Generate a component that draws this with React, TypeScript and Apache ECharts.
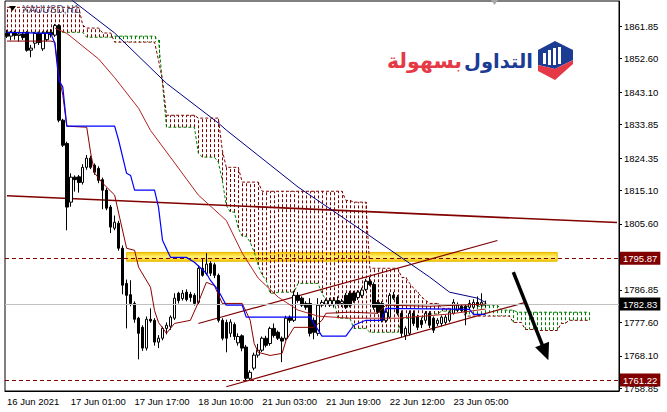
import React, { useEffect, useRef } from "react";
import * as echarts from "echarts";

const FONT = '"Liberation Sans", Arial, sans-serif';

const barSlots = 154;
const xTickLabels = [
  "16 Jun 2021", "17 Jun 01:00", "17 Jun 17:00", "18 Jun 10:00",
  "21 Jun 03:00", "21 Jun 19:00", "22 Jun 12:00", "23 Jun 05:00",
];
const yTickValues = [1861.85, 1852.6, 1843.1, 1833.85, 1824.35, 1815.1, 1805.6, 1786.85, 1777.6, 1768.1, 1758.85];

// [open, close, low, high]
const candles = [
  [1859.8, 1859.0, 1858.5, 1860.8], [1859.0, 1860.0, 1857.8, 1860.5], [1860.0, 1859.2, 1858.0, 1860.6],
  [1859.2, 1859.6, 1857.5, 1860.2], [1859.6, 1858.6, 1857.9, 1860.0], [1860.1, 1855.0, 1854.6, 1860.4],
  [1855.0, 1855.6, 1853.0, 1856.5], [1857.0, 1859.8, 1855.5, 1860.2], [1859.8, 1857.2, 1856.5, 1860.3],
  [1855.4, 1859.9, 1854.8, 1860.4], [1858.0, 1860.0, 1857.5, 1860.6], [1860.0, 1859.4, 1858.6, 1861.0],
  [1859.3, 1862.0, 1858.8, 1862.5], [1862.0, 1835.1, 1834.5, 1862.4], [1835.1, 1828.0, 1827.5, 1835.5],
  [1828.5, 1810.4, 1803.8, 1829.0], [1811.8, 1818.9, 1810.5, 1820.0], [1818.9, 1818.2, 1814.8, 1819.4],
  [1819.0, 1817.4, 1814.5, 1819.5], [1817.4, 1821.7, 1816.8, 1822.6], [1821.7, 1824.3, 1821.0, 1825.2],
  [1824.3, 1821.7, 1821.2, 1825.0], [1822.3, 1820.3, 1819.6, 1822.8], [1821.4, 1818.0, 1817.2, 1822.0],
  [1818.2, 1815.2, 1809.8, 1818.8], [1815.2, 1810.1, 1809.5, 1815.8], [1810.4, 1804.7, 1803.0, 1811.0],
  [1804.4, 1806.1, 1803.8, 1808.0], [1805.8, 1798.7, 1798.0, 1806.5], [1798.7, 1788.2, 1785.6, 1799.5],
  [1788.7, 1785.3, 1775.9, 1789.8], [1785.5, 1783.0, 1782.2, 1789.6], [1783.0, 1778.5, 1777.5, 1783.6],
  [1778.8, 1774.5, 1767.1, 1779.2], [1776.2, 1770.3, 1769.5, 1776.8], [1770.3, 1778.5, 1769.6, 1779.3],
  [1778.5, 1778.0, 1777.5, 1781.6], [1778.2, 1772.0, 1771.0, 1778.8], [1772.0, 1773.1, 1770.3, 1774.0],
  [1773.1, 1775.9, 1772.5, 1776.4], [1775.9, 1776.8, 1774.2, 1777.6], [1776.5, 1779.1, 1775.5, 1779.6],
  [1778.8, 1784.5, 1778.3, 1785.9], [1785.9, 1783.8, 1783.0, 1786.3], [1784.4, 1785.9, 1783.8, 1786.8],
  [1786.2, 1784.1, 1783.6, 1787.0], [1785.6, 1784.7, 1783.5, 1786.3], [1785.3, 1783.0, 1782.4, 1785.9],
  [1783.3, 1793.0, 1782.8, 1793.8], [1793.0, 1791.0, 1790.6, 1795.9], [1791.5, 1794.2, 1791.0, 1797.3],
  [1794.4, 1791.6, 1790.8, 1795.0], [1794.0, 1791.0, 1790.2, 1794.6], [1791.0, 1778.2, 1777.6, 1791.5],
  [1778.2, 1773.1, 1772.5, 1778.8], [1777.6, 1773.1, 1769.1, 1778.4], [1774.5, 1777.7, 1773.4, 1778.5],
  [1777.0, 1773.6, 1772.6, 1777.6], [1771.8, 1773.6, 1771.0, 1774.5], [1773.8, 1770.3, 1769.4, 1774.2],
  [1770.6, 1761.7, 1761.2, 1771.2], [1761.7, 1763.4, 1761.2, 1764.0], [1764.6, 1768.3, 1764.0, 1769.0],
  [1768.3, 1769.7, 1767.6, 1771.5], [1769.7, 1773.1, 1769.2, 1773.6], [1773.1, 1771.1, 1770.5, 1773.8],
  [1771.6, 1775.9, 1771.0, 1776.4], [1775.9, 1773.9, 1773.3, 1777.3], [1774.8, 1773.1, 1772.6, 1775.3],
  [1773.1, 1772.3, 1766.3, 1773.6], [1773.1, 1778.8, 1772.5, 1779.5], [1779.1, 1778.2, 1777.5, 1779.6],
  [1778.2, 1785.3, 1777.7, 1786.6], [1785.3, 1783.8, 1783.2, 1786.2], [1784.5, 1782.5, 1782.0, 1785.0],
  [1783.0, 1781.9, 1781.2, 1783.6], [1783.0, 1774.5, 1773.6, 1784.5], [1778.2, 1774.8, 1772.8, 1779.0],
  [1774.5, 1782.5, 1773.8, 1784.5], [1782.5, 1783.3, 1781.9, 1784.0], [1782.8, 1783.8, 1782.0, 1784.4],
  [1782.5, 1783.8, 1782.0, 1784.6], [1782.6, 1783.8, 1781.8, 1784.8], [1783.8, 1783.0, 1782.4, 1785.0],
  [1783.0, 1783.6, 1782.0, 1784.3], [1785.3, 1781.9, 1781.4, 1786.0], [1785.9, 1782.5, 1781.9, 1786.6],
  [1786.0, 1783.8, 1783.2, 1786.6], [1784.7, 1786.2, 1784.0, 1786.8], [1785.3, 1786.8, 1784.6, 1787.5],
  [1787.0, 1789.3, 1786.5, 1790.0], [1789.3, 1788.4, 1788.0, 1790.5], [1788.4, 1781.9, 1781.2, 1789.0],
  [1783.3, 1780.5, 1780.0, 1784.0], [1783.0, 1778.2, 1777.6, 1783.6], [1778.2, 1780.5, 1777.5, 1781.0],
  [1779.1, 1785.3, 1778.6, 1786.0], [1785.3, 1784.5, 1784.0, 1786.3], [1784.8, 1780.2, 1779.6, 1785.4],
  [1780.2, 1774.5, 1773.4, 1781.0], [1773.9, 1775.9, 1772.6, 1776.5], [1774.5, 1780.2, 1773.9, 1781.0],
  [1780.2, 1777.3, 1776.6, 1781.0], [1779.1, 1776.2, 1775.4, 1779.8], [1778.2, 1777.0, 1776.0, 1779.0],
  [1778.2, 1780.2, 1777.3, 1780.8], [1780.2, 1776.8, 1776.0, 1780.8], [1778.8, 1775.4, 1774.6, 1779.3],
  [1777.3, 1778.2, 1776.6, 1778.8], [1777.3, 1779.1, 1776.5, 1779.6], [1777.6, 1779.1, 1777.0, 1779.8],
  [1778.2, 1780.5, 1777.6, 1781.0], [1780.2, 1783.3, 1779.8, 1784.2], [1781.0, 1782.5, 1780.5, 1783.3],
  [1782.2, 1781.0, 1780.4, 1782.8], [1782.2, 1780.5, 1776.8, 1782.8], [1781.9, 1783.0, 1781.4, 1784.0],
  [1781.9, 1783.3, 1781.4, 1784.2], [1783.3, 1782.5, 1782.0, 1785.0], [1782.5, 1783.3, 1782.0, 1785.9],
  [1782.6, 1782.83, 1782.0, 1783.8],
];

// Ichimoku spans as runs: [value, number of bars]
const spanARuns = [
  [1860.1, 20], [1858.7, 7], [1859.0, 11], [1857.9, 1], [1845.6, 1], [1833.1, 8], [1825.7, 1], [1824.6, 4],
  [1823.2, 1], [1818.0, 1], [1810.9, 1], [1809.0, 2], [1804.4, 1], [1802.1, 2], [1800.4, 1], [1797.6, 1],
  [1793.9, 1], [1791.0, 1], [1789.6, 1], [1785.9, 2], [1786.2, 5], [1788.7, 6], [1785.9, 1], [1783.9, 3],
  [1778.8, 4], [1775.9, 4], [1774.8, 8], [1778.8, 6], [1780.0, 4], [1780.8, 4], [1781.4, 2], [1782.2, 5],
  [1782.5, 4], [1781.1, 4], [1780.5, 19],
];
const spanBRuns = [
  [1867.2, 19], [1862.1, 1], [1861.3, 4], [1859.9, 3], [1857.3, 11], [1852.2, 1], [1846.5, 1], [1836.5, 8],
  [1835.7, 6], [1826.6, 1], [1821.7, 4], [1817.5, 5], [1814.9, 21], [1812.3, 2], [1811.8, 4], [1793.0, 8],
  [1790.4, 2], [1788.7, 1], [1787.3, 1], [1786.2, 1], [1784.8, 1], [1783.9, 1], [1783.0, 3], [1781.6, 6],
  [1779.4, 12], [1777.6, 3], [1775.6, 3], [1775.3, 6], [1777.3, 2], [1778.2, 6],
];

// vertices [bar index, price]
const kijun = [
  [0, 1860.1], [11, 1859.8], [12, 1857.0], [13, 1846.5], [14, 1844.5], [15, 1833.4], [27, 1833.4], [28, 1829.4],
  [30, 1820.0], [31, 1819.4], [32, 1815.2], [37, 1815.2], [38, 1810.4], [39, 1801.0], [41, 1796.1], [45, 1796.1],
  [47, 1794.7], [50, 1791.6], [51, 1789.6], [53, 1786.7], [55, 1782.5], [59, 1782.5], [60, 1779.1], [76, 1779.1],
  [79, 1773.7], [85, 1773.7], [87, 1776.8], [90, 1778.2], [94, 1778.2], [95, 1781.6], [116, 1781.3], [117, 1779.9],
  [120, 1779.9],
];
const tenkan = [
  [0, 1857.6], [11, 1857.6], [12, 1857.3], [13, 1847.9], [14, 1842.2], [15, 1833.4], [20, 1833.1], [21, 1825.7],
  [22, 1820.0], [24, 1817.2], [27, 1813.8], [28, 1808.7], [30, 1798.7], [32, 1798.1], [33, 1793.3], [36, 1787.6],
  [37, 1781.0], [38, 1777.6], [40, 1774.5], [42, 1777.3], [46, 1778.2], [48, 1783.3], [50, 1789.0], [52, 1788.1],
  [54, 1783.0], [59, 1783.0], [61, 1778.2], [62, 1771.6], [63, 1769.1], [66, 1768.2], [69, 1768.8], [70, 1772.5],
  [72, 1776.2], [77, 1776.2], [79, 1778.2], [80, 1780.2], [86, 1780.5], [93, 1780.2], [95, 1782.5], [106, 1782.2],
  [113, 1782.5], [120, 1782.8],
];
const maFast = [
  [12, 1861.3], [15, 1859.8], [23, 1852.5], [27, 1847.2], [33, 1838.5], [36, 1832.2], [43, 1821.5], [48, 1813.8],
  [55, 1806.6], [59, 1797.3], [63, 1790.2], [68, 1784.8], [73, 1781.1], [78, 1779.4], [86, 1778.8], [98, 1778.8],
  [111, 1780.0], [120, 1781.4],
];
const maSlow = [
  [13, 1872.1], [27, 1859.9], [40, 1845.6], [53, 1834.3], [55, 1832.3], [73, 1816.1], [90, 1803.0], [106, 1790.5],
  [111, 1786.2], [118, 1784.5], [120, 1783.3],
];
const longTrend = [[0, 1813.6], [153, 1806.0]];
const channelUpper = [[48, 1777.3], [123, 1800.9]];
const channelLower = [[55, 1759.3], [130, 1783.3]];
const arrowFrom = [127, 1791.9];
const arrowTo = [135, 1769.1];
const resistanceLevel = 1795.87;
const supportLevel = 1761.22;
const lastPrice = 1782.83;
const zoneFrom = [30, 1797.5];
const zoneTo = [138, 1795.0];

const expand = (runs: number[][]) => runs.flatMap(([v, n]) => Array(n).fill(v));

export default function App() {
  const ref = useRef<HTMLDivElement>(null);
  useEffect(() => {
    document.body.style.margin = "0";
    const chart = echarts.init(ref.current!, undefined, { renderer: "svg" });
    const spanA = expand(spanARuns);
    const spanB = expand(spanBRuns);
    const cats = Array.from({ length: barSlots }, (_, i) => String(i));
    const maroon = "#800000";
    const levelLabel = (bg: string) => ({
      show: true, position: "end", distance: 1, color: "#fff", backgroundColor: bg,
      padding: [2, 3, 1, 3], fontSize: 9.5, fontFamily: FONT,
      formatter: (p: any) => Number(p.value).toFixed(2),
    });
    const lineSeries = (data: number[][], color: string, width: number, z = 4, type: any = "solid") => ({
      type: "line", data, symbol: "none", silent: true, z,
      lineStyle: { color, width, type }, animation: false,
    });
    chart.setOption({
      animation: false,
      textStyle: { fontFamily: FONT },
      grid: { left: 5, right: 48, top: 1, bottom: 21, show: true, borderColor: "#000", borderWidth: 1, backgroundColor: "#fff" },
      xAxis: {
        type: "category", data: cats, boundaryGap: true,
        axisLine: { lineStyle: { color: "#000" } },
        axisTick: { alignWithLabel: true, interval: 15, length: 4, lineStyle: { color: "#000" } },
        axisLabel: {
          interval: 15, align: "left", margin: 5, fontSize: 9.5, color: "#000", fontFamily: FONT,
          formatter: (_v: string, idx: number) => xTickLabels[idx / 16] ?? "",
        },
        splitLine: { show: false },
      },
      yAxis: {
        type: "value", position: "right", min: 1758.1, max: 1869.0, scale: true,
        axisLine: { show: true, lineStyle: { color: "#000" } },
        axisTick: { show: true, length: 3, customValues: yTickValues, lineStyle: { color: "#000" } },
        axisLabel: {
          customValues: yTickValues, margin: 5, fontSize: 9.5, color: "#000", fontFamily: FONT,
          formatter: (v: number) => v.toFixed(2),
        },
        splitLine: { show: false },
      },
      series: [
        {
          type: "line", data: [], symbol: "none", silent: true, z: 1,
          markArea: {
            silent: true,
            itemStyle: {
              color: new echarts.graphic.LinearGradient(0, 0, 0, 1, [
                { offset: 0, color: "#f2c800" }, { offset: 0.5, color: "#fff27a" }, { offset: 1, color: "#f2c800" },
              ]),
              borderColor: "#e8b800", borderWidth: 1,
            },
            data: [[{ coord: zoneFrom }, { coord: zoneTo }]],
          },
        },
        {
          type: "custom", silent: true, z: 2, clip: true,
          data: spanA.map((a: number, i: number) => [i, a, spanB[i]]),
          encode: { x: 0, y: [1, 2] },
          renderItem: (_params: any, api: any) => {
            const i = api.value(0), a = api.value(1), b = api.value(2);
            const p1 = api.coord([i, a]);
            const p2 = api.coord([i, b]);
            const x = Math.round(p1[0]) + 0.5;
            return {
              type: "line",
              shape: { x1: x, y1: p1[1], x2: x, y2: p2[1] },
              style: { stroke: b > a ? maroon : "#008000", lineWidth: 1, lineDash: [3, 2] },
            };
          },
        },
        lineSeries(spanA.map((v: number, i: number) => [i, v]), "#008000", 1, 3, [3, 2]),
        lineSeries(spanB.map((v: number, i: number) => [i, v]), maroon, 1, 3, [3, 2]),
        {
          ...lineSeries(longTrend, maroon, 1.6, 3),
          markLine: {
            silent: true, symbol: ["none", "none"], animation: false,
            data: [
              { yAxis: lastPrice, lineStyle: { color: "#c0c0c0", width: 1, type: "solid" }, label: levelLabel("#000") },
              { yAxis: resistanceLevel, lineStyle: { color: maroon, width: 1, type: [4, 3] }, label: levelLabel(maroon) },
              { yAxis: supportLevel, lineStyle: { color: maroon, width: 1, type: [4, 3] }, label: levelLabel(maroon) },
              [
                { coord: arrowFrom, symbol: "none", lineStyle: { color: "#000", width: 3.5, type: "solid" }, label: { show: false } },
                { coord: arrowTo, symbol: "triangle", symbolSize: [15, 17] },
              ],
            ],
          },
        },
        lineSeries(channelUpper, maroon, 1.2, 3),
        lineSeries(channelLower, maroon, 1.2, 3),
        {
          type: "candlestick", data: candles, barWidth: 3, z: 4, silent: true,
          itemStyle: { color: "#fff", color0: "#000", borderColor: "#000", borderColor0: "#000", borderWidth: 1 },
        },
        lineSeries(maSlow, "#000080", 1, 5),
        lineSeries(maFast, "#b22222", 1, 5),
        lineSeries(tenkan, "#8b0000", 1, 5),
        lineSeries(kijun, "#0000ff", 1.2, 5),
      ],
      graphic: [
        { type: "polygon", shape: { points: [[9, 6], [16, 6], [12.5, 11]] }, style: { fill: "#000" }, z: 10 },
        {
          type: "text", x: 22, y: 9, z: 10,
          style: { text: "XAUUSD,H1", fill: "#50507a", font: `10px ${FONT}`, textVerticalAlign: "middle", verticalAlign: "middle" },
        },
        { type: "polygon", shape: { points: [[491, 0], [498, 0], [494.5, 5]] }, style: { fill: "#a8a8a8" }, z: 10 },
        {
          type: "text", x: 533, y: 61, z: 10,
          style: {
            text: "التداول", fill: "#1c3c94", font: 'bold 19.5px "DejaVu Sans", sans-serif',
            textAlign: "right", align: "right", textVerticalAlign: "middle", verticalAlign: "middle",
          },
        },
        {
          type: "text", x: 462, y: 61, z: 10,
          style: {
            text: "بسهولة", fill: "#e63946", font: 'bold 20.5px "DejaVu Sans", sans-serif',
            textAlign: "right", align: "right", textVerticalAlign: "middle", verticalAlign: "middle",
          },
        },
        {
          type: "polygon", z: 10,
          shape: { points: [[555, 41], [573, 50], [573, 60], [555, 69], [538, 65], [538, 50]] },
          style: { fill: "#1c3c94" },
        },
        {
          type: "polygon", z: 10,
          shape: { points: [[538, 65], [555, 69], [573, 60], [573, 64], [555, 80], [538, 71]] },
          style: { fill: "#e63946" },
        },
        { type: "rect", z: 11, shape: { x: 543, y: 53, width: 3, height: 11 }, style: { fill: "#fff" } },
        { type: "rect", z: 11, shape: { x: 548, y: 50, width: 3, height: 15 }, style: { fill: "#fff" } },
        { type: "rect", z: 11, shape: { x: 553, y: 48, width: 3, height: 17 }, style: { fill: "#fff" } },
        { type: "rect", z: 11, shape: { x: 558, y: 47, width: 3, height: 17 }, style: { fill: "#fff" } },
      ],
    });
    return () => chart.dispose();
  }, []);
  return <div ref={ref} style={{ position: "absolute", left: 0, top: 0, width: 667, height: 412 }} />;
}
